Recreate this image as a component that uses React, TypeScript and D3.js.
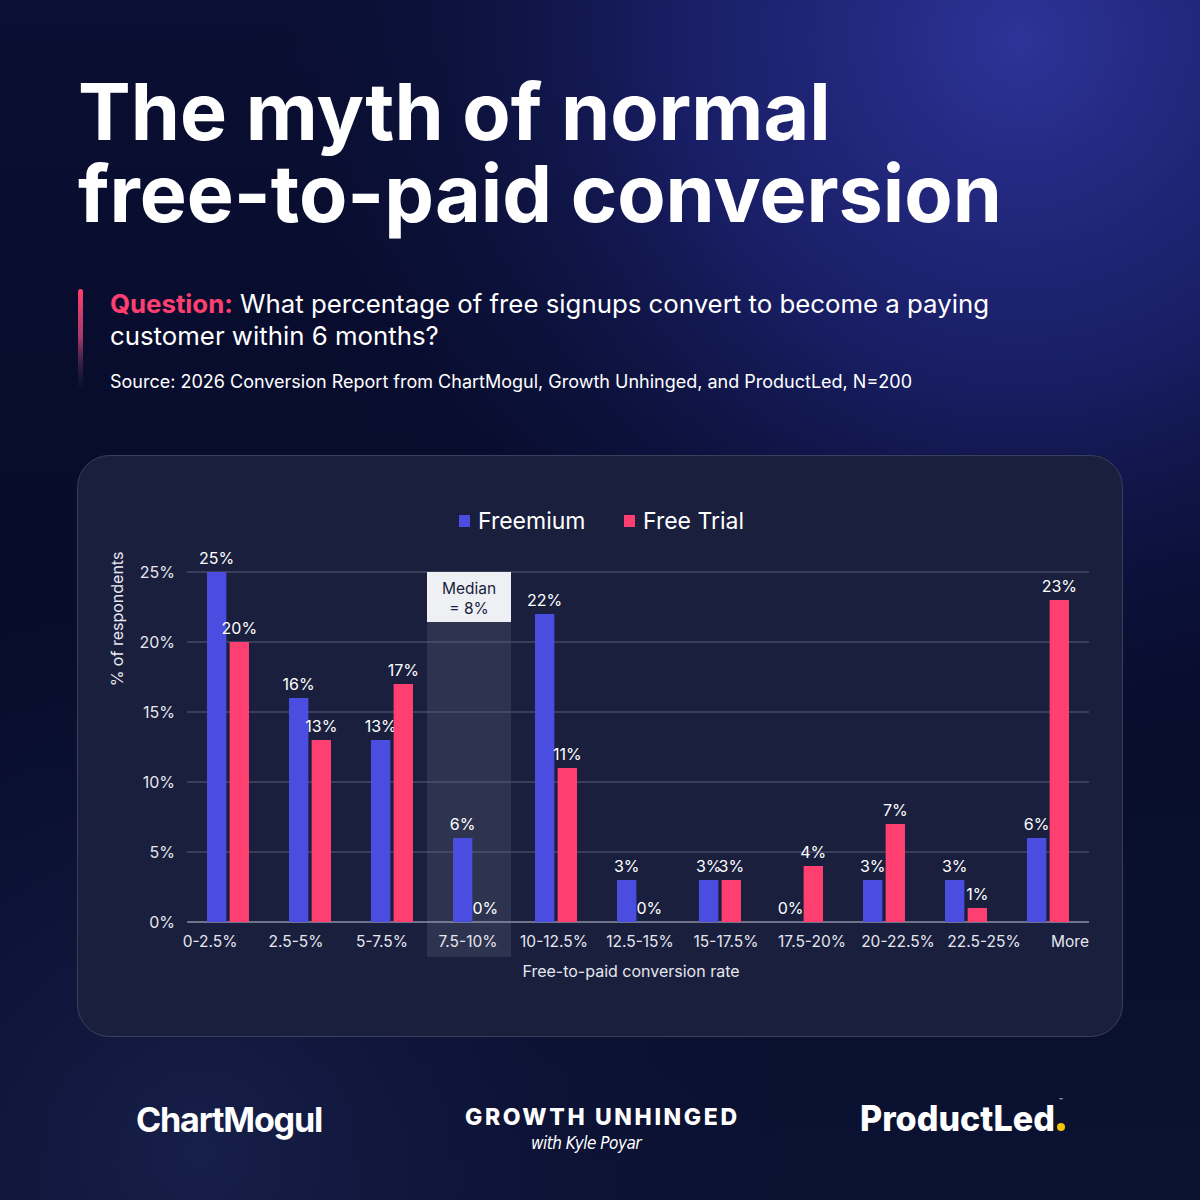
import React from "react";
import * as d3 from "d3";

const categories = [
  "0-2.5%",
  "2.5-5%",
  "5-7.5%",
  "7.5-10%",
  "10-12.5%",
  "12.5-15%",
  "15-17.5%",
  "17.5-20%",
  "20-22.5%",
  "22.5-25%",
  "More",
];
const freemium = [25, 16, 13, 6, 22, 3, 3, 0, 3, 3, 6];
const freeTrial = [20, 13, 17, 0, 11, 0, 3, 4, 7, 1, 23];
const seriesNames = ["Freemium", "Free Trial"];
const yTicks = [0, 5, 10, 15, 20, 25];
const medianCategory = "7.5-10%";

const FONT = "Inter, 'Noto Sans', sans-serif";
const BLUE = "#4a4de0";
const PINK = "#ff3f6f";
const colors = [BLUE, PINK];

const plot = { left: 187, right: 1089, top: 572, bottom: 922 };

const App: React.FC = () => {
  const x0 = d3
    .scaleBand<string>()
    .domain(categories)
    .range([plot.left, plot.right])
    .padding(0);
  const x1 = d3
    .scaleBand<string>()
    .domain(seriesNames)
    .range([20, 63])
    .paddingInner(0.1);
  const y = d3.scaleLinear().domain([0, 25]).range([plot.bottom, plot.top]);
  const xLabel = d3.scalePoint<string>().domain(categories).range([210, 1070]);

  const rows = categories.map((c, i) => ({
    cat: c,
    values: [freemium[i], freeTrial[i]],
  }));

  const medX = (x0(medianCategory) as number) - 6;
  const medW = x0.bandwidth() + 2;

  return (
    <svg
      width={1200}
      height={1200}
      viewBox="0 0 1200 1200"
      style={{ position: "absolute", left: 0, top: 0, display: "block" }}
      fontFamily={FONT}
    >
      <defs>
        <linearGradient id="bgBase" x1="0" y1="0" x2="0" y2="1">
          <stop offset="0" stopColor="#0a0f33" />
          <stop offset="0.5" stopColor="#070c2b" />
          <stop offset="1" stopColor="#0b1232" />
        </linearGradient>
        <radialGradient id="glow" cx="1020" cy="40" r="760" gradientUnits="userSpaceOnUse">
          <stop offset="0" stopColor="#2d3398" stopOpacity="1" />
          <stop offset="0.45" stopColor="#1f257a" stopOpacity="0.7" />
          <stop offset="1" stopColor="#0a0f33" stopOpacity="0" />
        </radialGradient>
        <radialGradient id="glowBottom" cx="200" cy="1150" r="600" gradientUnits="userSpaceOnUse">
          <stop offset="0" stopColor="#1a2350" stopOpacity="0.8" />
          <stop offset="1" stopColor="#0a0f33" stopOpacity="0" />
        </radialGradient>
        <linearGradient id="accent" x1="0" y1="0" x2="0" y2="1">
          <stop offset="0" stopColor="#ff3f6f" />
          <stop offset="0.5" stopColor="#a33a6a" />
          <stop offset="1" stopColor="#1a1f40" stopOpacity="0.2" />
        </linearGradient>
      </defs>

      {/* background */}
      <rect width={1200} height={1200} fill="url(#bgBase)" />
      <rect width={1200} height={1200} fill="url(#glow)" />
      <rect width={1200} height={1200} fill="url(#glowBottom)" />

      {/* title */}
      <text x={78} y={140} fill="#ffffff" fontSize={79} fontWeight={700}>
        The myth of normal
      </text>
      <text x={78} y={222} fill="#ffffff" fontSize={79} fontWeight={700}>
        free-to-paid conversion
      </text>

      {/* question */}
      <rect x={78} y={289} width={5} height={98} rx={2.5} fill="url(#accent)" />
      <text x={110} y={313} fontSize={25.8} fill="#ffffff">
        <tspan fill={PINK} fontWeight={700}>
          Question:
        </tspan>
        <tspan> What percentage of free signups convert to become a paying</tspan>
      </text>
      <text x={110} y={345} fontSize={25.8} fill="#ffffff">
        customer within 6 months?
      </text>
      <text x={110} y={388} fontSize={18} fill="#ffffff">
        Source: 2026 Conversion Report from ChartMogul, Growth Unhinged, and ProductLed, N=200
      </text>

      {/* card */}
      <rect
        x={77.5}
        y={455.5}
        width={1045}
        height={581}
        rx={32}
        fill="#1a1f3e"
        stroke="#3a3f5c"
        strokeWidth={1}
      />

      {/* legend */}
      {seriesNames.map((s, i) => {
        const lx = i === 0 ? 459 : 624;
        return (
          <g key={s}>
            <rect x={lx} y={515} width={11} height={12} fill={colors[i]} />
            <text x={lx + 19} y={529} fontSize={23} fill="#ffffff">
              {s}
            </text>
          </g>
        );
      })}

      {/* median highlight */}
      <rect
        x={medX}
        y={y(25) + 50}
        width={medW}
        height={957 - (y(25) + 50)}
        fill="#ffffff"
        opacity={0.09}
      />

      {/* gridlines */}
      {yTicks.map((t) => (
        <g key={t}>
          <line
            x1={plot.left}
            x2={plot.right}
            y1={y(t)}
            y2={y(t)}
            stroke={t === 0 ? "#8c90a6" : "#5a5e78"}
            strokeWidth={t === 0 ? 1.5 : 1}
          />
          <text
            x={175}
            y={y(t) + 5.5}
            textAnchor="end"
            fontSize={16}
            fill="#e6e7ee"
          >
            {`${t}%`}
          </text>
        </g>
      ))}

      {/* median box */}
      <rect x={medX} y={y(25)} width={medW} height={50} fill="#eef0f4" />
      <text x={medX + medW / 2} y={y(25) + 22} textAnchor="middle" fontSize={15.5} fill="#1a1f3e">
        Median
      </text>
      <text x={medX + medW / 2} y={y(25) + 42} textAnchor="middle" fontSize={15.5} fill="#1a1f3e">
        = 8%
      </text>

      {/* bars */}
      {rows.map((r) => (
        <g key={r.cat} transform={`translate(${x0(r.cat)},0)`}>
          {r.values.map((v, i) => {
            const bx = x1(seriesNames[i]) as number;
            const bw = x1.bandwidth() - 1;
            return (
              <g key={i}>
                {v > 0 && (
                  <rect
                    x={bx}
                    y={y(v)}
                    width={bw}
                    height={y(0) - y(v)}
                    fill={colors[i]}
                  />
                )}
                <text
                  x={bx + bw / 2}
                  y={y(v) - 8}
                  textAnchor="middle"
                  fontSize={16}
                  fill="#ffffff"
                >
                  {`${v}%`}
                </text>
              </g>
            );
          })}
        </g>
      ))}

      {/* x tick labels */}
      {categories.map((c) => (
        <text
          key={c}
          x={xLabel(c)}
          y={947}
          textAnchor="middle"
          fontSize={15.5}
          fill="#e6e7ee"
        >
          {c}
        </text>
      ))}

      {/* axis titles */}
      <text x={631} y={977} textAnchor="middle" fontSize={16} fill="#e6e7ee">
        Free-to-paid conversion rate
      </text>
      <text
        transform={`translate(123,${(plot.top + plot.bottom) / 2 - 128}) rotate(-90)`}
        textAnchor="middle"
        fontSize={16}
        fill="#e6e7ee"
      >
        % of respondents
      </text>

      {/* logos */}
      <text x={136} y={1132} fontSize={34} fontWeight={700} fill="#ffffff" letterSpacing={-1.2}
        textLength={186} lengthAdjust="spacingAndGlyphs">
        ChartMogul
      </text>
      <text
        x={465}
        y={1125}
        fontSize={23}
        fontWeight={800}
        fill="#ffffff"
        textLength={272}
        lengthAdjust="spacing"
      >
        GROWTH UNHINGED
      </text>
      <text
        x={586}
        y={1149}
        textAnchor="middle"
        fontSize={17}
        fontStyle="italic"
        fill="#ffffff"
        fontFamily="'DejaVu Sans Condensed', sans-serif"
        letterSpacing={-0.5}
      >
        with Kyle Poyar
      </text>
      <text x={860} y={1131} fontSize={35} fontWeight={800} fill="#ffffff"
        textLength={195} lengthAdjust="spacingAndGlyphs">
        ProductLed
      </text>
      <circle cx={1061} cy={1127} r={4} fill="#f5c400" />
      <text x={1059} y={1103} fontSize={6} fill="#ffffff">
        ™
      </text>
    </svg>
  );
};

export default App;
